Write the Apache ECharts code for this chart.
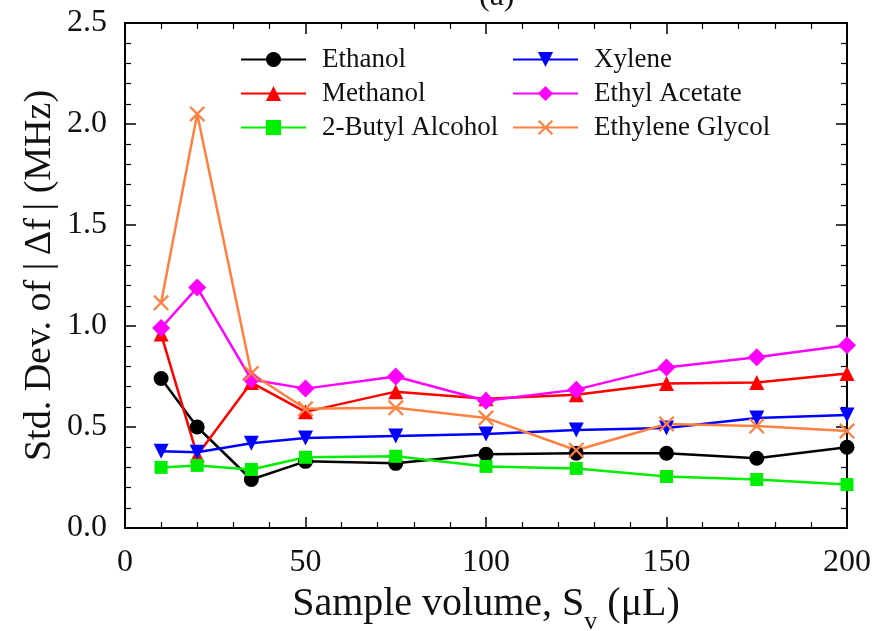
<!DOCTYPE html>
<html>
<head>
<meta charset="utf-8">
<script src="https://cdn.jsdelivr.net/npm/echarts@6/dist/echarts.min.js"></script>
<style>
  html, body { margin: 0; padding: 0; background: #fff; }
  #chart { width: 875px; height: 631px; }
</style>
</head>
<body>
<div id="chart"></div>
<script>
// sample volumes (uL)
const volumes = [10, 20, 35, 50, 75, 100, 125, 150, 175, 200]
// std. dev. values per solvent (MHz)
const ethanol = [0.74, 0.50, 0.24, 0.33, 0.32, 0.365, 0.37, 0.37, 0.345, 0.40]
const methanol = [0.96, 0.36, 0.72, 0.575, 0.675, 0.64, 0.66, 0.715, 0.72, 0.765]
const butylAlcohol = [0.30, 0.31, 0.29, 0.35, 0.355, 0.305, 0.295, 0.255, 0.24, 0.215]
const xylene = [0.38, 0.375, 0.42, 0.445, 0.455, 0.465, 0.485, 0.495, 0.545, 0.56]
const ethylAcetate = [0.99, 1.19, 0.735, 0.69, 0.75, 0.63, 0.685, 0.795, 0.845, 0.905]
const ethyleneGlycol = [1.115, 2.05, 0.765, 0.59, 0.595, 0.545, 0.385, 0.515, 0.505, 0.48]

const serif = "'Liberation Serif', 'DejaVu Serif', serif"
const crossPath = 'path://M0,1L1,0L5,4L9,0L10,1L6,5L10,9L9,10L5,6L1,10L0,9L4,5Z'

const pairs = (ys) => volumes.map((x, i) => [x, ys[i]])

const makeSeries = (name, ys, color, symbol, size, rotate) => {
  return {
    name: name,
    type: 'line',
    data: pairs(ys),
    symbol: symbol,
    symbolSize: size,
    symbolRotate: rotate || 0,
    showAllSymbol: true,
    lineStyle: { color: color, width: 2.5 },
    itemStyle: { color: color },
    emphasis: { disabled: true },
    animation: false
  }
}

// box axes, ticks pointing inward on all four sides
const boxAxis = (extra) => Object.assign({
  axisLine: { show: true, onZero: false, lineStyle: { color: '#000', width: 2 } },
  axisTick: { show: true, inside: true, length: 11, lineStyle: { color: '#000', width: 1.5 } },
  minorTick: { show: true, splitNumber: 5, length: 6, lineStyle: { color: '#000', width: 1.2 } },
  splitLine: { show: false }
}, extra)

const legendBase = {
  orient: 'vertical',
  top: 41,
  itemWidth: 65,
  itemHeight: 19,
  itemGap: 7,
  textStyle: { fontFamily: serif, fontSize: 27, color: '#111', padding: [0, 0, 0, 11] },
  selectedMode: false
}

const chart = echarts.init(document.getElementById('chart'))
const option = {
  backgroundColor: '#fff',
  title: {
    text: '(a)',
    left: 474,
    top: -24,
    textStyle: { fontFamily: serif, fontSize: 32, fontWeight: 'normal', color: '#111' }
  },
  legend: [
    Object.assign({ left: 235, data: ['Ethanol', 'Methanol', '2-Butyl Alcohol'] }, legendBase),
    Object.assign({ left: 507, data: ['Xylene', 'Ethyl Acetate', 'Ethylene Glycol'] }, legendBase)
  ],
  grid: { left: 125, right: 28, top: 23, bottom: 103, outerBoundsMode: 'none', containLabel: false },
  xAxis: [
    boxAxis({
      type: 'value', min: 0, max: 200, interval: 50, position: 'bottom',
      name: 'Sample volume, S{sub|v} (\u03bcL)',
      nameLocation: 'middle',
      nameGap: 45,
      nameMoveOverlap: false,
      nameTextStyle: {
        fontFamily: serif, fontSize: 40, color: '#111', lineHeight: 62,
        rich: { sub: { fontFamily: serif, fontSize: 26, color: '#111', verticalAlign: 'bottom' } }
      },
      axisLabel: { fontFamily: serif, fontSize: 32, color: '#111', margin: 19 }
    }),
    boxAxis({ type: 'value', min: 0, max: 200, interval: 50, position: 'top', axisLabel: { show: false } })
  ],
  yAxis: [
    boxAxis({
      type: 'value', min: 0, max: 2.5, interval: 0.5, position: 'left',
      name: 'Std. Dev. of |\u2009\u0394f\u2009| (MHz)',
      nameLocation: 'middle',
      nameGap: 66,
      nameMoveOverlap: false,
      nameTextStyle: { fontFamily: serif, fontSize: 38, color: '#111' },
      axisLabel: {
        fontFamily: serif, fontSize: 32, color: '#111', margin: 18,
        formatter: (v) => v.toFixed(1)
      }
    }),
    boxAxis({ type: 'value', min: 0, max: 2.5, interval: 0.5, position: 'right', axisLabel: { show: false } })
  ],
  series: [
    makeSeries('Ethanol', ethanol, '#000000', 'circle', 15),
    makeSeries('Methanol', methanol, '#ff0000', 'triangle', 15),
    makeSeries('2-Butyl Alcohol', butylAlcohol, '#00ee00', 'rect', 13),
    makeSeries('Xylene', xylene, '#0000ff', 'triangle', 15, 180),
    makeSeries('Ethyl Acetate', ethylAcetate, '#ff00ff', 'diamond', 18),
    makeSeries('Ethylene Glycol', ethyleneGlycol, '#ff8040', crossPath, 16)
  ]
}
chart.setOption(option)
window.addEventListener('resize', chart.resize)
</script>
</body>
</html>
